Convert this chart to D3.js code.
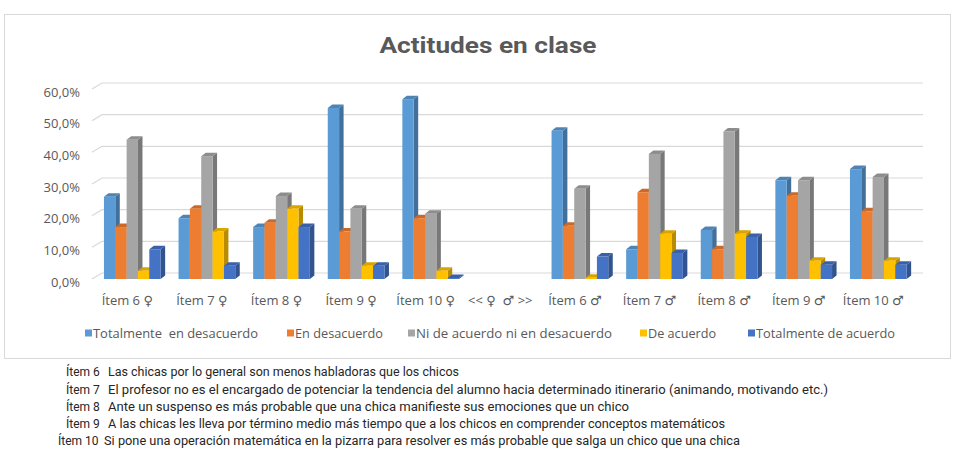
<!DOCTYPE html>
<html>
<head>
<meta charset="utf-8">
<script src="https://cdn.jsdelivr.net/npm/d3@7"></script>
<style>
  body { margin: 0; background: #fff; }
  svg { display: block; }
  svg text { white-space: pre; }
</style>
</head>
<body>
<div id="chart"></div>
<script>
// categories (the middle one is only a separator between girls and boys)
const categories = ["Ítem 6 ♀", "Ítem 7 ♀", "Ítem 8 ♀", "Ítem 9 ♀", "Ítem 10 ♀", "<< ♀  ♂ >>",
                    "Ítem 6 ♂", "Ítem 7 ♂", "Ítem 8 ♂", "Ítem 9 ♂", "Ítem 10 ♂"];
const seriesNames = ["Totalmente  en desacuerdo", "En desacuerdo", "Ni de acuerdo ni en desacuerdo",
                     "De acuerdo", "Totalmente de acuerdo"];

// percentages
const totalmenteDesacuerdo = [26.0, 19.2, 16.4, 54.0, 56.8, null, 46.8, 9.4, 15.5, 31.2, 34.7];
const enDesacuerdo         = [16.4, 22.2, 17.8, 15.0, 19.2, null, 16.8, 27.4, 9.4, 26.3, 21.4];
const niNi                 = [44.0, 38.8, 26.2, 22.2, 20.6, null, 28.5, 39.5, 46.6, 31.2, 32.2];
const deAcuerdo            = [2.6, 15.0, 22.2, 4.2, 2.6, null, 0.4, 14.3, 14.3, 5.8, 5.8];
const totalmenteAcuerdo    = [9.4, 4.2, 16.4, 4.2, 0.3, null, 7.1, 8.2, 13.3, 4.5, 4.5];

const yTicks = [0, 10, 20, 30, 40, 50, 60];

const notes = [
  ["Ítem 6", "Las chicas por lo general son menos habladoras que los chicos"],
  ["Ítem 7", "El profesor no es el encargado de potenciar la tendencia del alumno hacia determinado itinerario (animando, motivando etc.)"],
  ["Ítem 8", "Ante un suspenso es más probable que una chica manifieste sus emociones que un chico"],
  ["Ítem 9", "A las chicas les lleva por término medio más tiempo que a los chicos en comprender conceptos matemáticos"],
  ["Ítem 10", "Si pone una operación matemática en la pizarra para resolver es más probable que salga un chico que una chica"]
];

const seriesValues = [totalmenteDesacuerdo, enDesacuerdo, niNi, deAcuerdo, totalmenteAcuerdo];
const colors = ["#5B9BD5", "#ED7D31", "#A5A5A5", "#FFC000", "#4472C4"];

const W = 955, H = 449;
const chartFont = "'Open Sans', 'DejaVu Sans', sans-serif";
const noteFont = "Roboto, 'Liberation Sans Narrow', sans-serif";

const svg = d3.select("#chart").append("svg")
  .attr("width", W)
  .attr("height", H);

// chart frame
svg.append("rect")
  .attr("x", 4.5).attr("y", 14.5)
  .attr("width", 946).attr("height", 344)
  .attr("fill", "#fff")
  .attr("stroke", "#d9d9d9");

// title
svg.append("text")
  .attr("x", 488).attr("y", 53)
  .attr("text-anchor", "middle")
  .attr("textLength", 217).attr("lengthAdjust", "spacingAndGlyphs")
  .style("font-family", "Roboto, 'Open Sans', sans-serif")
  .style("font-weight", "bold")
  .style("font-size", "22px")
  .style("fill", "#595959")
  .text("Actitudes en clase");

// scales
const x = d3.scaleBand().domain(categories).range([95, 915.6]);
const groupW = 56.7;
const xi = d3.scaleBand().domain(seriesNames).range([0, groupW]);
const y = d3.scaleLinear().domain([0, 60]).range([279, 89]);
const wall = { dx: 10, dy: -6 };    // back wall offset
const depth = { dx: 4.5, dy: -3.5 }; // bar depth

// gridlines on the back wall
const grid = svg.append("g").attr("fill", "none").attr("stroke", "#d9d9d9").attr("stroke-width", 1.2);
yTicks.forEach(function(t) {
  const x0 = x.range()[0] - 3;
  grid.append("path")
    .attr("d", "M" + x0 + "," + y(t) + "L" + (x0 + wall.dx) + "," + (y(t) + wall.dy) + "H923");
});

// y axis labels
const esLocale = d3.formatLocale({ decimal: ",", thousands: ".", grouping: [3], currency: ["", "€"] });
const pct = esLocale.format(".1f");
const yAxis = d3.axisLeft(y).tickValues(yTicks).tickSize(0).tickPadding(0)
  .tickFormat(function(d) { return pct(d) + "%"; });
const gy = svg.append("g").attr("transform", "translate(80,3)").call(yAxis);
gy.select(".domain").remove();
gy.selectAll("text").style("font-family", chartFont).style("font-size", "13px").style("fill", "#595959");

// x axis labels
const xAxis = d3.axisBottom(x).tickSize(0).tickPadding(0);
const gx = svg.append("g").attr("transform", "translate(-5,296)").call(xAxis);
gx.select(".domain").remove();
gx.selectAll("text").style("font-family", chartFont).style("font-size", "13px").style("fill", "#595959");

// bars (pseudo 3D: front, right side, top)
const rows = [];
categories.forEach(function(c, ci) {
  seriesNames.forEach(function(s, si) {
    const v = seriesValues[si][ci];
    if (v != null) rows.push({ cat: c, series: s, si: si, value: v });
  });
});

const off = (x.bandwidth() - groupW) / 2;
const bars = svg.append("g").selectAll("g").data(rows).join("g");

bars.each(function(d) {
  const g = d3.select(this);
  const col = d3.color(colors[d.si]);
  const x0 = x(d.cat) + off + xi(d.series), x1 = x0 + xi.bandwidth();
  const y0 = y(0), y1 = y(d.value);
  g.append("path")
    .attr("d", "M" + x1 + "," + y0 + "L" + (x1 + depth.dx) + "," + (y0 + depth.dy) +
               "L" + (x1 + depth.dx) + "," + (y1 + depth.dy) + "L" + x1 + "," + y1 + "Z")
    .attr("fill", col.darker(0.9));
  g.append("path")
    .attr("d", "M" + x0 + "," + y1 + "L" + (x0 + depth.dx) + "," + (y1 + depth.dy) +
               "L" + (x1 + depth.dx) + "," + (y1 + depth.dy) + "L" + x1 + "," + y1 + "Z")
    .attr("fill", col.darker(0.45));
  g.append("rect")
    .attr("x", x0).attr("y", y1)
    .attr("width", xi.bandwidth()).attr("height", y0 - y1)
    .attr("fill", col);
});

// legend
const legendX = [85, 287, 408, 640, 748];
const legendW = [165, 88, 196, 68, 139];
const legend = svg.append("g").selectAll("g").data(seriesNames).join("g")
  .attr("transform", function(d, i) { return "translate(" + legendX[i] + ",333)"; });
legend.append("rect")
  .attr("x", 0).attr("y", -3.5).attr("width", 7).attr("height", 7)
  .attr("fill", function(d, i) { return colors[i]; });
legend.append("text")
  .attr("x", 8).attr("y", 4.5)
  .attr("textLength", function(d, i) { return legendW[i]; })
  .attr("lengthAdjust", "spacingAndGlyphs")
  .style("font-family", chartFont).style("font-size", "13px").style("fill", "#595959")
  .text(function(d) { return d; });

// notes under the chart
const noteY = [376, 394, 411, 428, 445];
const noteEnd = [459, 828, 629, 725, 740];
const note = svg.append("g").selectAll("g").data(notes).join("g");
note.append("text")
  .attr("x", function(d, i) { return i === 4 ? 58 : 66; })
  .attr("y", function(d, i) { return noteY[i]; })
  .style("font-family", noteFont).style("font-size", "12px").style("fill", "#262626")
  .text(function(d) { return d[0]; });
note.append("text")
  .attr("x", function(d, i) { return i === 4 ? 104 : 108; })
  .attr("y", function(d, i) { return noteY[i]; })
  .attr("textLength", function(d, i) { return noteEnd[i] - (i === 4 ? 104 : 108); })
  .attr("lengthAdjust", "spacingAndGlyphs")
  .style("font-family", noteFont).style("font-size", "12px").style("fill", "#262626")
  .text(function(d) { return d[1]; });
</script>
</body>
</html>
